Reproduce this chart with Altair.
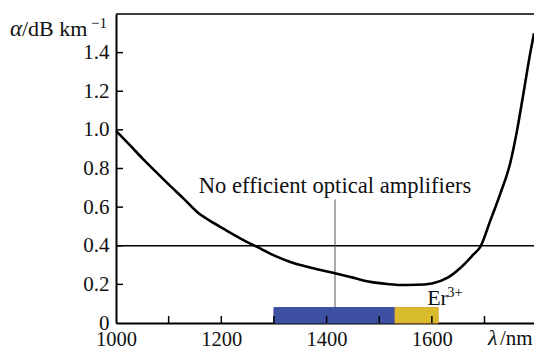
import altair as alt
import pandas as pd

# ---- data ----
wavelength = [1000, 1025, 1051, 1075, 1103, 1130, 1154, 1175, 1203, 1235, 1268, 1300,
              1331, 1350, 1380, 1412, 1450, 1483, 1515, 1540, 1570, 1600, 1630, 1654,
              1679, 1692, 1711, 1730, 1749, 1762, 1774, 1787, 1794]
attenuation = [0.995, 0.925, 0.85, 0.785, 0.71, 0.64, 0.575, 0.535, 0.49, 0.44, 0.394, 0.35,
               0.316, 0.30, 0.28, 0.26, 0.235, 0.213, 0.202, 0.197, 0.198, 0.205, 0.235, 0.285,
               0.355, 0.394, 0.53, 0.67, 0.83, 1.0, 1.19, 1.40, 1.50]

band_start = [1300, 1530]
band_end = [1530, 1612]
band_top = [0.08, 0.08]
band_name = ["none", "Er"]
band_color = ["#3e50a2", "#d9bc2c"]

x_ticks = [1100, 1200, 1300, 1400, 1500, 1600, 1700]
y_ticks = [0.2, 0.4, 0.6, 0.8, 1.0, 1.2, 1.4]
x_labels = [1000, 1200, 1400, 1600]
y_labels = [0, 0.2, 0.4, 0.6, 0.8, 1.0, 1.2, 1.4]

threshold = 0.4
marker_wl = 1416
marker_top = 0.64
note = "No efficient optical amplifiers"

W, H = 418, 309
FONT = "Liberation Serif, Times New Roman, DejaVu Serif, serif"

xs = alt.Scale(domain=[1000, 1794], nice=False, zero=False)
ys = alt.Scale(domain=[0, 1.6], nice=False)

curve_df = pd.DataFrame({"wl": wavelength, "a": attenuation})
band_df = pd.DataFrame({"s": band_start, "e": band_end, "t": band_top,
                        "name": band_name, "c": band_color})
xt_df = pd.DataFrame({"v": x_ticks})
yt_df = pd.DataFrame({"v": y_ticks})

base_x_axis = alt.Axis(values=x_labels, ticks=False, grid=False, domainColor="black",
                       domainWidth=2, labelFont=FONT, labelFontSize=20.5, labelColor="#111",
                       labelPadding=6, title=None, labelFlush=False, format="d")
base_y_axis = alt.Axis(values=y_labels, ticks=False, grid=False, domainColor="black",
                       domainWidth=2, labelFont=FONT, labelFontSize=21, labelColor="#111",
                       labelPadding=7, title=None,
                       labelExpr="datum.value == 0 ? '0' : format(datum.value, '.1f')")

bars = alt.Chart(band_df).mark_rect(strokeWidth=1).encode(
    x=alt.X("s:Q", scale=xs, axis=base_x_axis),
    x2="e:Q",
    y=alt.Y("t:Q", scale=ys, axis=base_y_axis),
    y2=alt.datum(0),
    fill=alt.Color("c:N", scale=None),
    stroke=alt.condition("datum.name == 'Er'", alt.value("#e0a53a"), alt.value("#3e50a2")),
)

xticks = alt.Chart(xt_df).mark_rule(color="black", strokeWidth=1.5).encode(
    x=alt.X("v:Q", scale=xs), y=alt.value(H), y2=alt.value(H - 7))
yticks = alt.Chart(yt_df).mark_rule(color="black", strokeWidth=1.5).encode(
    y=alt.Y("v:Q", scale=ys), x=alt.value(0), x2=alt.value(7))

hline = alt.Chart(pd.DataFrame({"v": [threshold]})).mark_rule(color="black", strokeWidth=1.5).encode(
    y=alt.Y("v:Q", scale=ys), x=alt.value(0), x2=alt.value(W))
vline = alt.Chart(pd.DataFrame({"x": [marker_wl], "y1": [band_top[0]], "y2": [marker_top]})).mark_rule(
    color="#555", strokeWidth=1).encode(
    x=alt.X("x:Q", scale=xs), y=alt.Y("y1:Q", scale=ys), y2="y2:Q")

curve = alt.Chart(curve_df).mark_line(color="black", strokeWidth=2.6, interpolate="monotone").encode(
    x=alt.X("wl:Q", scale=xs), y=alt.Y("a:Q", scale=ys))

note_t = alt.Chart(pd.DataFrame({"x": [marker_wl], "y": [0.672], "t": [note]})).mark_text(
    font=FONT, fontSize=22.6, align="center", baseline="alphabetic", color="#111").encode(
    x=alt.X("x:Q", scale=xs), y=alt.Y("y:Q", scale=ys), text="t:N")

er_t = alt.Chart(pd.DataFrame({"x": [1591], "y": [0.092], "t": ["Er"]})).mark_text(
    font=FONT, fontSize=22, align="left", baseline="alphabetic", color="#111").encode(
    x=alt.X("x:Q", scale=xs), y=alt.Y("y:Q", scale=ys), text="t:N")
er_sup = alt.Chart(pd.DataFrame({"x": [1591], "y": [0.092], "t": ["3+"]})).mark_text(
    font=FONT, fontSize=14.5, align="left", baseline="alphabetic", dx=20, dy=-8, color="#111").encode(
    x=alt.X("x:Q", scale=xs), y=alt.Y("y:Q", scale=ys), text="t:N")

top_rule = alt.Chart(pd.DataFrame({"a": [0]})).mark_rule(color="black", strokeWidth=1.5).encode(
    y=alt.value(0), x=alt.value(0), x2=alt.value(W))

ytitle_a = alt.Chart(pd.DataFrame({"t": ["α"]})).mark_text(
    font=FONT, fontSize=23, fontStyle="italic", align="left", baseline="alphabetic", color="#111").encode(
    x=alt.value(-106), y=alt.value(22), text="t:N")
ytitle_b = alt.Chart(pd.DataFrame({"t": ["/dB km"]})).mark_text(
    font=FONT, fontSize=22, align="left", baseline="alphabetic", color="#111").encode(
    x=alt.value(-94), y=alt.value(22), text="t:N")
ytitle_c = alt.Chart(pd.DataFrame({"t": ["\u22121"]})).mark_text(
    font=FONT, fontSize=15, align="right", baseline="alphabetic", color="#111").encode(
    x=alt.value(-9), y=alt.value(14), text="t:N")

xtitle_a = alt.Chart(pd.DataFrame({"t": ["λ"]})).mark_text(
    font=FONT, fontSize=22, fontStyle="italic", align="left", baseline="alphabetic", color="#111").encode(
    x=alt.value(372), y=alt.value(H + 22), text="t:N")
xtitle_b = alt.Chart(pd.DataFrame({"t": ["/nm"]})).mark_text(
    font=FONT, fontSize=21, align="left", baseline="alphabetic", color="#111").encode(
    x=alt.value(384), y=alt.value(H + 22), text="t:N")

chart = alt.layer(
    bars, xticks, yticks, hline, vline, curve, note_t, er_t, er_sup, top_rule,
    ytitle_a, ytitle_b, ytitle_c, xtitle_a, xtitle_b
).properties(
    width=W, height=H,
    autosize=alt.AutoSizeParams(type="none"),
    padding={"left": 116, "top": 14, "right": 0, "bottom": 26},
    background="white",
).configure_view(stroke=None)

chart.save("out.html", embed_options={"renderer": "svg", "actions": False})
